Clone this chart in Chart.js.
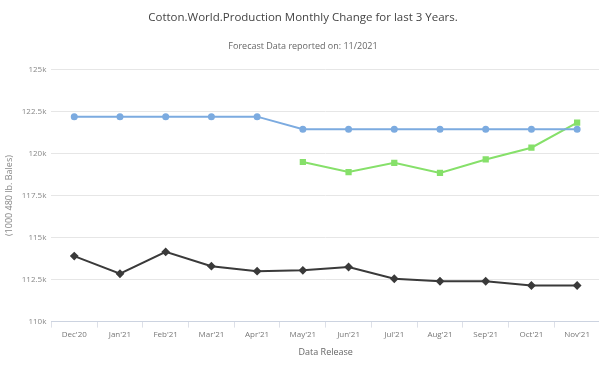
<!DOCTYPE html>
<html>
<head>
<meta charset="utf-8">
<script src="https://cdn.jsdelivr.net/npm/chart.js@4.4.0/dist/chart.umd.min.js"></script>
<style>
  html, body { margin: 0; background: #fff; overflow: hidden; }
  #wrap { width: 606px; height: 380px; }
</style>
</head>
<body>
<div id="wrap"><canvas id="chart"></canvas></div>
<script>
// release months
const labels = ["Dec'20", "Jan'21", "Feb'21", "Mar'21", "Apr'21", "May'21", "Jun'21", "Jul'21", "Aug'21", "Sep'21", "Oct'21", "Nov'21"];

// world production estimates (1000 480 lb. bales)
const blueSeries = [122.2, 122.2, 122.2, 122.2, 122.2, 121.45, 121.45, 121.45, 121.45, 121.45, 121.45, 121.45];
const greenSeries = [null, null, null, null, null, 119.5, 118.9, 119.45, 118.85, 119.65, 120.35, 121.85];
const blackSeries = [113.9, 112.85, 114.15, 113.3, 113.0, 113.05, 113.25, 112.55, 112.4, 112.4, 112.15, 112.15];

const yTicks = [110, 112.5, 115, 117.5, 120, 122.5, 125];

const font = "'Open Sans', 'DejaVu Sans Condensed', sans-serif";

new Chart(document.getElementById('chart'), {
  type: 'line',
  data: {
    labels: labels,
    datasets: [
      {
        data: blueSeries.map(v => v * 1000),
        borderColor: '#7cabe0',
        backgroundColor: '#7cabe0',
        borderWidth: 2,
        pointRadius: 2.5,
        pointStyle: 'circle',
        tension: 0
      },
      {
        data: greenSeries.map(v => v === null ? null : v * 1000),
        borderColor: '#86e06a',
        backgroundColor: '#86e06a',
        borderWidth: 2,
        pointRadius: 3,
        pointStyle: 'rect',
        tension: 0
      },
      {
        data: blackSeries.map(v => v * 1000),
        borderColor: '#3a3a3a',
        backgroundColor: '#3a3a3a',
        borderWidth: 2,
        pointRadius: 3,
        pointStyle: 'rectRot',
        tension: 0
      }
    ]
  },
  options: {
    responsive: true,
    maintainAspectRatio: false,
    animation: false,
    layout: { padding: { top: 7, right: 0, left: 0, bottom: 18 } },
    plugins: {
      legend: { display: false },
      tooltip: { enabled: false },
      title: {
        display: true,
        text: 'Cotton.World.Production Monthly Change for last 3 Years.',
        color: '#444',
        font: { family: font, size: 11.5, weight: 'normal' },
        padding: { top: 4, bottom: 16 }
      },
      subtitle: {
        display: true,
        text: 'Forecast Data reported on: 11/2021',
        color: '#666',
        font: { family: font, size: 9 },
        padding: { bottom: 18 }
      }
    },
    scales: {
      x: {
        offset: true,
        grid: { display: true, drawOnChartArea: false, offset: true, tickLength: 6, color: '#dde0e8' },
        border: { color: '#ccd3e0' },
        ticks: { color: '#777', font: { family: font, size: 8 }, maxRotation: 0, padding: 2 },
        title: { display: true, text: 'Data Release', color: '#666', font: { family: font, size: 9 }, padding: { top: 6 } }
      },
      y: {
        min: 110000,
        max: 125000,
        afterBuildTicks: axis => { axis.ticks = yTicks.map(v => ({ value: v * 1000 })); },
        grid: { color: '#e6e6e6', drawTicks: false },
        border: { display: false },
        ticks: {
          color: '#888',
          font: { family: font, size: 8 },
          padding: 5,
          callback: v => (v / 1000) + 'k'
        },
        title: { display: true, text: '(1000 480 lb. Bales)', color: '#888', font: { family: font, size: 9 }, padding: { bottom: 2 } }
      }
    }
  }
});
</script>
</body>
</html>
